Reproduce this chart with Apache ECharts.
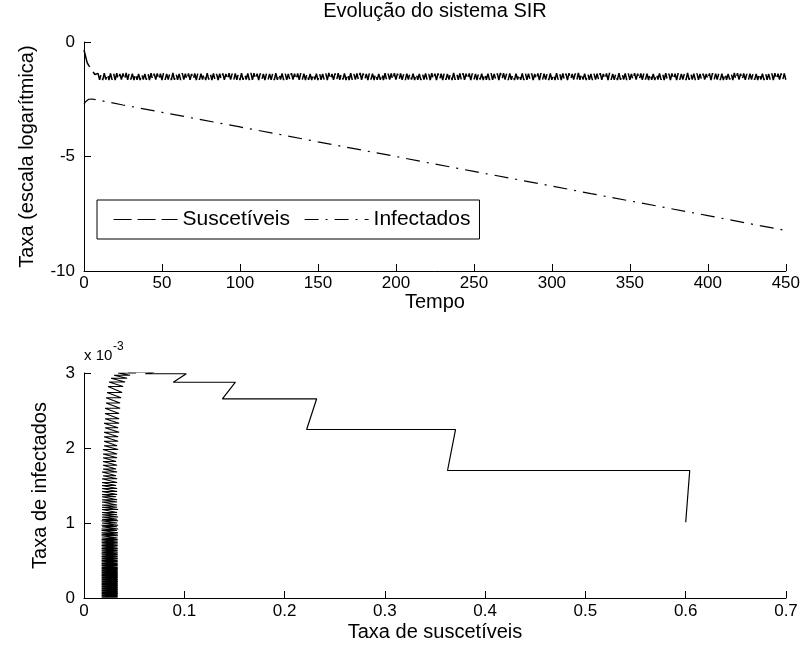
<!DOCTYPE html>
<html><head><meta charset="utf-8">
<script src="https://cdn.jsdelivr.net/npm/echarts@6/dist/echarts.min.js"></script>
<style>html,body{margin:0;padding:0;background:#fff}#c{width:803px;height:655px}</style>
</head><body><div id="c"></div>
<script>
// ---------- texts ----------
const titulo = 'Evolução do sistema SIR';
const nomeSerieS = 'Suscetíveis';
const nomeSerieI = 'Infectados';
const nomeEixoTempo = 'Tempo';
const nomeEixoTaxaLog = 'Taxa (escala logarítmica)';
const nomeEixoSusc = 'Taxa de suscetíveis';
const nomeEixoInf = 'Taxa de infectados';

// ---------- top plot: log10 of rates vs time ----------
const passoTempoS = 1; // Suscetíveis sampled at t = 0, 1, 2, ... 450
const logSuscetiveis = [
-0.35,-0.62,-0.90,-1.02,-1.12,-1.22,-1.32,-1.42,-1.50,
-1.37,-1.65,-1.39,-1.66,-1.36,-1.64,-1.38,-1.66,-1.37,-1.65,
-1.38,-1.66,-1.36,-1.65,-1.39,-1.64,-1.37,-1.66,-1.35,-1.65,
-1.36,-1.64,-1.38,-1.66,-1.37,-1.65,-1.40,-1.66,-1.38,-1.64,
-1.39,-1.65,-1.37,-1.66,-1.36,-1.65,-1.38,-1.64,-1.37,-1.66,
-1.38,-1.66,-1.36,-1.65,-1.39,-1.64,-1.37,-1.66,-1.35,-1.65,
-1.37,-1.65,-1.39,-1.66,-1.36,-1.64,-1.38,-1.66,-1.37,-1.65,
-1.39,-1.65,-1.37,-1.66,-1.36,-1.65,-1.38,-1.64,-1.37,-1.66,
-1.36,-1.64,-1.38,-1.66,-1.37,-1.65,-1.40,-1.66,-1.38,-1.64,
-1.37,-1.65,-1.39,-1.66,-1.36,-1.64,-1.38,-1.66,-1.37,-1.65,
-1.38,-1.66,-1.36,-1.65,-1.39,-1.64,-1.37,-1.66,-1.35,-1.65,
-1.36,-1.64,-1.38,-1.66,-1.37,-1.65,-1.40,-1.66,-1.38,-1.64,
-1.39,-1.65,-1.37,-1.66,-1.36,-1.65,-1.38,-1.64,-1.37,-1.66,
-1.37,-1.65,-1.39,-1.66,-1.36,-1.64,-1.38,-1.66,-1.37,-1.65,
-1.36,-1.64,-1.38,-1.66,-1.37,-1.65,-1.40,-1.66,-1.38,-1.64,
-1.38,-1.66,-1.36,-1.65,-1.39,-1.64,-1.37,-1.66,-1.35,-1.65,
-1.39,-1.65,-1.37,-1.66,-1.36,-1.65,-1.38,-1.64,-1.37,-1.66,
-1.38,-1.66,-1.36,-1.65,-1.39,-1.64,-1.37,-1.66,-1.35,-1.65,
-1.37,-1.65,-1.39,-1.66,-1.36,-1.64,-1.38,-1.66,-1.37,-1.65,
-1.39,-1.65,-1.37,-1.66,-1.36,-1.65,-1.38,-1.64,-1.37,-1.66,
-1.36,-1.64,-1.38,-1.66,-1.37,-1.65,-1.40,-1.66,-1.38,-1.64,
-1.36,-1.64,-1.38,-1.66,-1.37,-1.65,-1.40,-1.66,-1.38,-1.64,
-1.37,-1.65,-1.39,-1.66,-1.36,-1.64,-1.38,-1.66,-1.37,-1.65,
-1.38,-1.66,-1.36,-1.65,-1.39,-1.64,-1.37,-1.66,-1.35,-1.65,
-1.39,-1.65,-1.37,-1.66,-1.36,-1.65,-1.38,-1.64,-1.37,-1.66,
-1.37,-1.65,-1.39,-1.66,-1.36,-1.64,-1.38,-1.66,-1.37,-1.65,
-1.38,-1.66,-1.36,-1.65,-1.39,-1.64,-1.37,-1.66,-1.35,-1.65,
-1.36,-1.64,-1.38,-1.66,-1.37,-1.65,-1.40,-1.66,-1.38,-1.64,
-1.39,-1.65,-1.37,-1.66,-1.36,-1.65,-1.38,-1.64,-1.37,-1.66,
-1.39,-1.65,-1.37,-1.66,-1.36,-1.65,-1.38,-1.64,-1.37,-1.66,
-1.37,-1.65,-1.39,-1.66,-1.36,-1.64,-1.38,-1.66,-1.37,-1.65,
-1.38,-1.66,-1.36,-1.65,-1.39,-1.64,-1.37,-1.66,-1.35,-1.65,
-1.36,-1.64,-1.38,-1.66,-1.37,-1.65,-1.40,-1.66,-1.38,-1.64,
-1.38,-1.66,-1.36,-1.65,-1.39,-1.64,-1.37,-1.66,-1.35,-1.65,
-1.39,-1.65,-1.37,-1.66,-1.36,-1.65,-1.38,-1.64,-1.37,-1.66,
-1.37,-1.65,-1.39,-1.66,-1.36,-1.64,-1.38,-1.66,-1.37,-1.65,
-1.36,-1.64,-1.38,-1.66,-1.37,-1.65,-1.40,-1.66,-1.38,-1.64,
-1.37,-1.65,-1.39,-1.66,-1.36,-1.64,-1.38,-1.66,-1.37,-1.65,
-1.38,-1.66,-1.36,-1.65,-1.39,-1.64,-1.37,-1.66,-1.35,-1.65,
-1.36,-1.64,-1.38,-1.66,-1.37,-1.65,-1.40,-1.66,-1.38,-1.64,
-1.39,-1.65,-1.37,-1.66,-1.36,-1.65,-1.38,-1.64,-1.37,-1.66,
-1.38,-1.66,-1.36,-1.65,-1.39,-1.64,-1.37,-1.66,-1.35,-1.65,
-1.36,-1.64,-1.38,-1.66,-1.37,-1.65,-1.40,-1.66,-1.38,-1.64,
-1.37,-1.65,-1.39,-1.66,-1.36,-1.64,-1.38,-1.66,-1.37,-1.65,
-1.39,-1.65,-1.37,-1.66,-1.36,-1.65,-1.38,-1.64,-1.37,-1.66,
-1.37,-1.65
];
const tempoInfectados = [0, 1, 2, 3, 5, 8, 25, 50, 75, 100, 125, 150, 175, 200, 225, 250, 275, 300, 325, 350, 375, 400, 425, 450];
const logInfectados   = [-2.72, -2.61, -2.53, -2.50, -2.49, -2.52, -2.75, -3.07, -3.39, -3.71, -4.03, -4.36, -4.68, -5.00, -5.33, -5.65, -5.97, -6.29, -6.62, -6.94, -7.26, -7.58, -7.91, -8.23];

// ---------- bottom plot: phase plane (S, I) ----------
// I in units of 10^-3. Each level: horizontal stroke from faseSDireita to faseSEsquerda at I = faseNivelI
const faseInicioS = 0.600, faseInicioI = 1.01;
const faseNivelI = [
1.70, 2.247, 2.656, 2.877, 2.99, 3.01, 3.00, 2.97, 2.93, 2.88, 2.82,
2.74, 2.67, 2.60, 2.53, 2.46, 2.39, 2.33, 2.27, 2.21, 2.15,
2.09, 2.03, 1.98, 1.92, 1.87, 1.82, 1.77, 1.72, 1.68, 1.63,
1.59, 1.54, 1.50, 1.46, 1.42, 1.38, 1.35, 1.31, 1.28, 1.24,
1.21, 1.18, 1.14, 1.11, 1.08, 1.05, 1.03, 1.00, 0.97, 0.95,
0.92, 0.90, 0.87,
0.85, 0.83, 0.80, 0.78, 0.76, 0.74, 0.72, 0.70, 0.68, 0.66,
0.64, 0.63, 0.61, 0.59, 0.58, 0.56, 0.55, 0.53, 0.52, 0.50,
0.49, 0.48, 0.46, 0.45, 0.44, 0.43, 0.41, 0.40, 0.39, 0.38,
0.37, 0.36, 0.35, 0.34, 0.33, 0.32, 0.31, 0.30, 0.29, 0.28,
0.27, 0.26, 0.25, 0.24, 0.23, 0.22, 0.21, 0.20, 0.19, 0.18,
0.17, 0.16, 0.15, 0.14, 0.13, 0.12, 0.11, 0.10, 0.09, 0.08,
0.07, 0.06, 0.05, 0.04, 0.03, 0.02, 0.01
];
const faseSDireita = [
0.604, 0.3705, 0.232, 0.151, 0.102, 0.070, 0.052, 0.046, 0.043, 0.041, 0.039,
0.038, 0.037, 0.036, 0.036, 0.035, 0.035, 0.035, 0.034, 0.035, 0.034,
0.034, 0.033, 0.034, 0.033, 0.033, 0.032, 0.033, 0.032, 0.033, 0.032,
0.033, 0.033, 0.032, 0.033, 0.033, 0.033, 0.032, 0.033, 0.033, 0.033,
0.033, 0.034, 0.033, 0.033, 0.034, 0.033, 0.034, 0.033, 0.034, 0.033,
0.034, 0.033, 0.034,
0.0335, 0.0338, 0.0334, 0.0336, 0.0337, 0.0335, 0.0338, 0.0336, 0.0334, 0.0337,
0.0336, 0.0335, 0.0338, 0.0334, 0.0336, 0.0337, 0.0335, 0.0338, 0.0336, 0.0334,
0.0337, 0.0336, 0.0335, 0.0338, 0.0334, 0.0336, 0.0337, 0.0335, 0.0338, 0.0336,
0.0334, 0.0337, 0.0336, 0.0335, 0.0338, 0.0334, 0.0336, 0.0337, 0.0335, 0.0338,
0.0336, 0.0334, 0.0337, 0.0336, 0.0335, 0.0338, 0.0334, 0.0336, 0.0337, 0.0335,
0.0338, 0.0336, 0.0334, 0.0337, 0.0336, 0.0335, 0.0338, 0.0334, 0.0336, 0.0337,
0.0335, 0.0338, 0.0336, 0.0334, 0.0337, 0.0336, 0.0335
];
const faseSEsquerda = [
0.3625, 0.222, 0.138, 0.089, 0.061, 0.044, 0.034, 0.030, 0.027, 0.025, 0.024,
0.023, 0.022, 0.022, 0.021, 0.021, 0.021, 0.020, 0.021, 0.020, 0.020,
0.020, 0.020, 0.019, 0.019, 0.019, 0.019, 0.019, 0.019, 0.018, 0.019,
0.018, 0.018, 0.018, 0.018, 0.018, 0.018, 0.018, 0.018, 0.018, 0.018,
0.018, 0.018, 0.018, 0.018, 0.018, 0.018, 0.0175, 0.018, 0.0175, 0.018,
0.0175, 0.0175, 0.0175,
0.0176, 0.0175, 0.0177, 0.0176, 0.0175, 0.0177, 0.0176, 0.0175, 0.0177, 0.0176,
0.0175, 0.0177, 0.0176, 0.0175, 0.0177, 0.0176, 0.0175, 0.0177, 0.0176, 0.0175,
0.0177, 0.0176, 0.0175, 0.0177, 0.0176, 0.0175, 0.0177, 0.0176, 0.0175, 0.0177,
0.0176, 0.0175, 0.0177, 0.0176, 0.0175, 0.0177, 0.0176, 0.0175, 0.0177, 0.0176,
0.0175, 0.0177, 0.0176, 0.0175, 0.0177, 0.0176, 0.0175, 0.0177, 0.0176, 0.0175,
0.0177, 0.0176, 0.0175, 0.0177, 0.0176, 0.0175, 0.0177, 0.0176, 0.0175, 0.0177,
0.0176, 0.0175, 0.0177, 0.0176, 0.0175, 0.0177, 0.0176
];

// ---------- build ----------
const FONT = '"Liberation Sans", Arial, Helvetica, sans-serif';
const dadosS = logSuscetiveis.map((v, i) => [i * passoTempoS, v]);
const dadosI = tempoInfectados.map((t, i) => [t, logInfectados[i]]);
const dadosFase = [[faseInicioS, faseInicioI]];
for (let k = 0; k < faseNivelI.length; k++) {
  dadosFase.push([faseSDireita[k], faseNivelI[k]]);
  dadosFase.push([faseSEsquerda[k], faseNivelI[k]]);
}

const rotulo = { fontSize: 17, color: '#000', fontFamily: FONT };
function eixo(extra) {
  return Object.assign({
    type: 'value',
    nameLocation: 'middle',
    nameTextStyle: { fontSize: 20, color: '#000', fontFamily: FONT },
    axisLine: { show: true, onZero: false, lineStyle: { color: '#000', width: 1 } },
    axisTick: { show: true, inside: true, length: 7, lineStyle: { color: '#000', width: 1 } },
    axisLabel: rotulo,
    splitLine: { show: false }
  }, extra);
}

const chart = echarts.init(document.getElementById('c'), null, { renderer: 'canvas' });
chart.setOption({
  animation: false,
  backgroundColor: '#fff',
  textStyle: { fontFamily: FONT, color: '#000' },
  grid: [
    { left: 84, top: 42, width: 702, height: 229 },
    { left: 84, top: 373, width: 702, height: 225 }
  ],
  xAxis: [
    eixo({ gridIndex: 0, min: 0, max: 450, interval: 50, name: nomeEixoTempo, nameGap: 14,
           axisLabel: Object.assign({ margin: 4 }, rotulo) }),
    eixo({ gridIndex: 1, min: 0, max: 0.7, interval: 0.1, name: nomeEixoSusc, nameGap: 24,
           axisLabel: Object.assign({ margin: 5, formatter: v => String(Math.round(v * 10) / 10) }, rotulo) })
  ],
  yAxis: [
    eixo({ gridIndex: 0, min: -10, max: 0, interval: 5, name: nomeEixoTaxaLog, nameGap: 47,
           axisLabel: Object.assign({ margin: 9 }, rotulo) }),
    eixo({ gridIndex: 1, min: 0, max: 3, interval: 1, name: nomeEixoInf, nameGap: 34,
           axisLabel: Object.assign({ margin: 9 }, rotulo) })
  ],
  legend: {
    data: [nomeSerieS, nomeSerieI],
    left: 97, top: 200,
    orient: 'horizontal',
    padding: [9, 9, 9, 16],
    itemGap: 14,
    itemWidth: 64,
    itemHeight: 14,
    itemStyle: { opacity: 0 },
    lineStyle: { width: 1.2 },
    borderColor: '#000', borderWidth: 1, borderRadius: 0,
    backgroundColor: '#fff',
    textStyle: { fontSize: 21, color: '#000', fontFamily: FONT }
  },
  graphic: [
    { type: 'text', x: 435, y: 1, style: { text: titulo, fontSize: 20, fontFamily: FONT, fill: '#000', textAlign: 'center' } },
    { type: 'text', x: 84, y: 348, style: { text: 'x 10', fontSize: 15, fontFamily: FONT, fill: '#000' } },
    { type: 'text', x: 113, y: 341, style: { text: '-3', fontSize: 12, fontFamily: FONT, fill: '#000' } }
  ],
  series: [
    { name: nomeSerieS, type: 'line', xAxisIndex: 0, yAxisIndex: 0, data: dadosS,
      symbol: 'none', showSymbol: false, itemStyle: { color: '#000' },
      lineStyle: { color: '#000', width: 1.5, type: [18, 6] } },
    { name: nomeSerieI, type: 'line', xAxisIndex: 0, yAxisIndex: 0, data: dadosI,
      symbol: 'none', showSymbol: false, itemStyle: { color: '#000' },
      lineStyle: { color: '#000', width: 1.2, type: [14, 7, 2, 7] } },
    { name: 'fase', type: 'line', xAxisIndex: 1, yAxisIndex: 1, data: dadosFase,
      symbol: 'none', showSymbol: false, itemStyle: { color: '#000' },
      lineStyle: { color: '#000', width: 1.2 } }
  ]
});
</script>
</body></html>
